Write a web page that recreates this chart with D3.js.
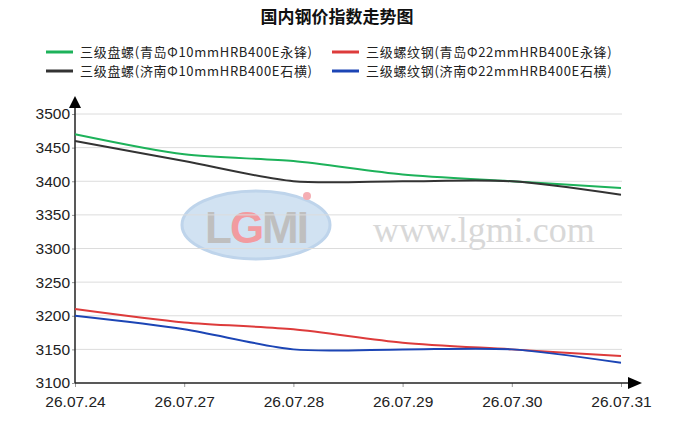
<!DOCTYPE html>
<html>
<head>
<meta charset="utf-8">
<script src="https://cdn.jsdelivr.net/npm/d3@7"></script>
<style>
  body { margin: 0; background: #fff; }
  svg { display: block; }
</style>
</head>
<body>
<div id="chart"></div>
<script>
const dates = ['26.07.24', '26.07.27', '26.07.28', '26.07.29', '26.07.30', '26.07.31'];
const yTicks = [3100, 3150, 3200, 3250, 3300, 3350, 3400, 3450, 3500];

const qdPanluo = [3470, 3440, 3430, 3410, 3400, 3390];
const jnPanluo = [3460, 3430, 3400, 3400, 3400, 3380];
const qdLuowen = [3210, 3190, 3180, 3160, 3150, 3140];
const jnLuowen = [3200, 3180, 3150, 3150, 3150, 3130];

const seriesNames = [
   '三级盘螺(青岛Φ10mmHRB400E永锋)',
   '三级螺纹钢(青岛Φ22mmHRB400E永锋)',
   '三级盘螺(济南Φ10mmHRB400E石横)',
   '三级螺纹钢(济南Φ22mmHRB400E石横)'
];
const seriesColors = ['#1db25a', '#dd3b3b', '#333333', '#1c45b5'];
const seriesValues = [qdPanluo, qdLuowen, jnPanluo, jnLuowen];

const w = 678;
const h = 425;
const plotL = 75, plotR = 621, plotT = 114, plotB = 383;

const svg = d3.select('#chart')
   .append('svg')
   .attr('width', w)
   .attr('height', h);

const x = d3.scalePoint().domain(dates).range([plotL, plotR]);
const y = d3.scaleLinear().domain([3100, 3500]).range([plotB, plotT]);

// title
svg.append('text')
   .attr('x', 337)
   .attr('y', 23)
   .attr('text-anchor', 'middle')
   .attr('font-family', '"Noto Sans CJK SC", sans-serif')
   .attr('font-size', 17)
   .attr('font-weight', 'bold')
   .attr('fill', '#111')
   .text('国内钢价指数走势图');

// legend, two columns
const legendPos = [[46, 52], [332, 52], [46, 71], [332, 71]];
seriesNames.forEach((name, i) => {
   const g = svg.append('g').attr('transform', 'translate(' + legendPos[i][0] + ',' + legendPos[i][1] + ')');
   g.append('line')
      .attr('x1', 0).attr('x2', 27)
      .attr('stroke', seriesColors[i])
      .attr('stroke-width', 3);
   g.append('text')
      .attr('x', 34)
      .attr('y', 4.5)
      .attr('font-family', '"Noto Sans CJK SC", sans-serif')
      .attr('font-size', 13)
      .attr('letter-spacing', 0.7)
      .attr('fill', '#222')
      .text(name);
});

// watermark
const wm = svg.append('g').attr('opacity', 0.85);
wm.append('ellipse')
   .attr('cx', 256).attr('cy', 225).attr('rx', 74).attr('ry', 34)
   .attr('fill', '#c9ddf0')
   .attr('stroke', '#b3cde8')
   .attr('stroke-width', 3);
wm.append('text')
   .attr('x', 256).attr('y', 243)
   .attr('text-anchor', 'middle')
   .attr('font-family', 'Liberation Sans, sans-serif')
   .attr('font-weight', 'bold')
   .attr('font-size', 44)
   .attr('fill', '#b5b5b5')
   .attr('letter-spacing', -2)
   .html('L<tspan fill="#f08a90">G</tspan>MI');
wm.append('circle')
   .attr('cx', 307).attr('cy', 196).attr('r', 4)
   .attr('fill', '#f4a0a6');
wm.append('text')
   .attr('x', 373).attr('y', 242)
   .attr('font-family', '"Liberation Serif", serif')
   .attr('font-size', 36)
   .attr('fill', '#d2d2d2')
   .text('www.lgmi.com');

// grid
svg.append('g')
   .selectAll('line')
   .data(yTicks.slice(1))
   .enter()
   .append('line')
   .attr('x1', plotL)
   .attr('x2', plotR + 1)
   .attr('y1', d => y(d))
   .attr('y2', d => y(d))
   .attr('stroke', '#dcdcdc')
   .attr('stroke-width', 1);

// axes
const yAxis = svg.append('g')
   .attr('transform', 'translate(' + plotL + ',0)')
   .call(d3.axisLeft(y).tickValues(yTicks).tickFormat(d3.format('d')).tickSize(3).tickPadding(2));
const xAxis = svg.append('g')
   .attr('transform', 'translate(0,' + plotB + ')')
   .call(d3.axisBottom(x).tickSize(4).tickPadding(9));
[yAxis, xAxis].forEach(a => {
   a.select('.domain').remove();
   a.selectAll('line').attr('stroke', '#999');
   a.selectAll('text')
      .attr('font-family', '"Liberation Sans", Arial, sans-serif')
      .attr('font-size', 15.5)
      .attr('fill', '#222');
});

svg.append('line')
   .attr('x1', plotL).attr('x2', plotL)
   .attr('y1', 104).attr('y2', plotB)
   .attr('stroke', '#222').attr('stroke-width', 1.5);
svg.append('line')
   .attr('x1', plotL).attr('x2', 630)
   .attr('y1', plotB).attr('y2', plotB)
   .attr('stroke', '#222').attr('stroke-width', 1.5);
svg.append('path')
   .attr('d', 'M' + plotL + ',96L' + (plotL + 6) + ',108L' + (plotL - 6) + ',108Z')
   .attr('fill', '#000');
svg.append('path')
   .attr('d', 'M642,' + plotB + 'L628,' + (plotB - 6) + 'L628,' + (plotB + 6) + 'Z')
   .attr('fill', '#000');

// lines
const line = d3.line()
   .x((d, i) => x(dates[i]))
   .y(d => y(d))
   .curve(d3.curveCardinal.tension(0.2));

seriesValues.forEach((vals, i) => {
   svg.append('path')
      .datum(vals)
      .attr('d', line)
      .attr('fill', 'none')
      .attr('stroke', seriesColors[i])
      .attr('stroke-width', 2);
});
</script>
</body>
</html>
